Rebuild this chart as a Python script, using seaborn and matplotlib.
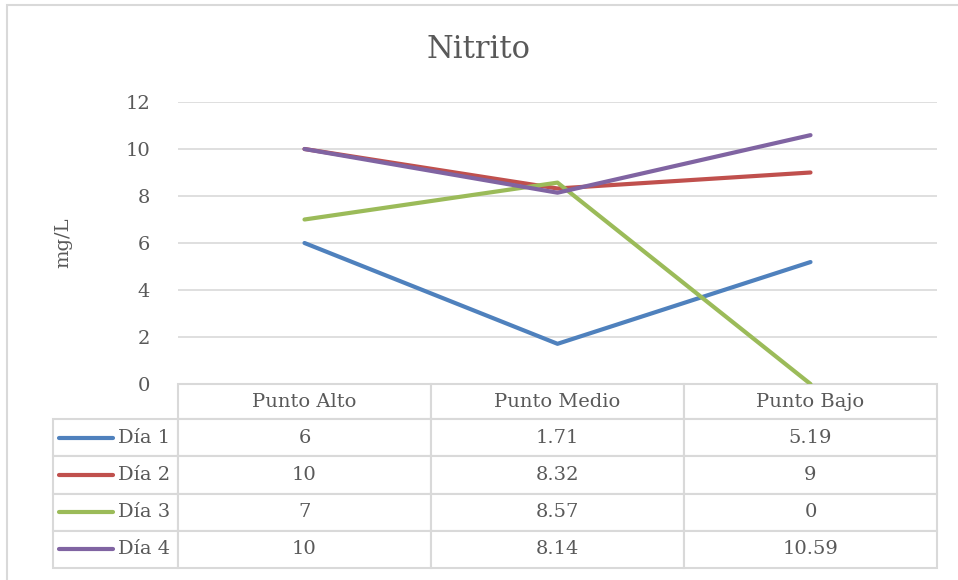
import matplotlib
matplotlib.use("Agg")
import matplotlib.pyplot as plt
import matplotlib.patches as mpatches
import pandas as pd
import seaborn as sns

# datos
categorias = ["Punto Alto", "Punto Medio", "Punto Bajo"]
series = ["Día 1", "Día 2", "Día 3", "Día 4"]
dia1 = [6, 1.71, 5.19]
dia2 = [10, 8.32, 9]
dia3 = [7, 8.57, 0]
dia4 = [10, 8.14, 10.59]
etiquetas_tabla = [["6", "1.71", "5.19"],
                   ["10", "8.32", "9"],
                   ["7", "8.57", "0"],
                   ["10", "8.14", "10.59"]]
colores = ["#4F81BD", "#C0504D", "#9BBB59", "#8064A2"]

df = pd.DataFrame({"Día 1": dia1, "Día 2": dia2, "Día 3": dia3, "Día 4": dia4},
                  index=categorias)
df_long = df.reset_index(names="punto").melt(id_vars="punto", var_name="dia", value_name="valor")
df_long["x"] = df_long["punto"].map({c: i for i, c in enumerate(categorias)})

sns.set_style("white")
plt.rcParams["font.family"] = ["DejaVu Serif"]
gris_txt = "#595959"
gris_lin = "#d9d9d9"

fig = plt.figure(figsize=(9.58, 5.8), dpi=100)
W, H = 958, 580
AW, AH = 759, 282
ax = fig.add_axes([178 / W, 1 - 384 / H, AW / W, AH / H])

# marco exterior
fig.patches.append(mpatches.Rectangle((7 / W, -0.05), 1.1, 1 - 5 / H + 0.05,
                                      transform=fig.transFigure, fill=False,
                                      edgecolor=gris_lin, lw=1.5))

sns.lineplot(data=df_long, x="x", y="valor", hue="dia", palette=colores,
             linewidth=3, ax=ax, legend=False, solid_capstyle="round")

ax.set_xlim(-0.5, 2.5)
ax.set_ylim(0, 12)
ax.set_yticks(range(0, 13, 2))
ax.set_xticks([])
ax.set_xlabel("")
ax.set_ylabel("mg/L", fontsize=14, color=gris_txt, labelpad=38)
ax.tick_params(axis="y", labelsize=14, labelcolor=gris_txt, length=0, pad=20)
for y in range(2, 13, 2):
    ax.axhline(y, color=gris_lin, lw=1.2, zorder=0)
for s in ax.spines.values():
    s.set_visible(False)

fig.text(0.5, 1 - 49 / H, "Nitrito", ha="center", va="center",
         fontsize=22, color=gris_txt)

# tabla de datos (el bbox solo cuenta las columnas de datos)
tabla = ax.table(cellText=etiquetas_tabla, rowLabels=series, colLabels=categorias,
                 cellLoc="center", rowLoc="right",
                 bbox=[0, -184 / AH, 1, 184 / AH])
tabla.auto_set_font_size(False)
tabla._autoColumns = []
for (r, c), cell in tabla.get_celld().items():
    cell.set_edgecolor(gris_lin)
    cell.set_linewidth(1.5)
    cell.get_text().set_color(gris_txt)
    cell.get_text().set_fontsize(14)
    cell.set_width((125 if c == -1 else 253) / AW)
    cell.set_height((35 if r == 0 else 37) / AH)
    if c == -1:
        cell.PAD = 0.06

# claves de leyenda en la tabla
fila_h = 37 / AH
for i, col in enumerate(colores):
    yc = -(35 / AH) - fila_h * (i + 0.5)
    ax.plot([(59 - 178) / AW, (113 - 178) / AW], [yc, yc], transform=ax.transAxes,
            color=col, lw=3, solid_capstyle="round", clip_on=False)

fig.savefig("out.png", dpi=100)
